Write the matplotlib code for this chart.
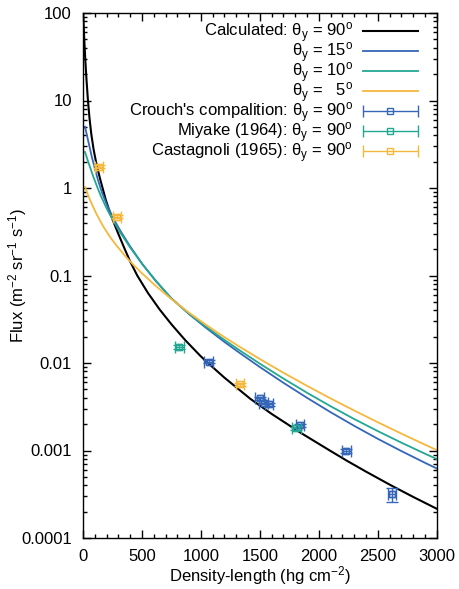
from __future__ import annotations

import matplotlib
matplotlib.use('Agg')
import matplotlib.pyplot as plt
from matplotlib.container import ErrorbarContainer
from matplotlib.legend_handler import HandlerErrorbar
from matplotlib.ticker import FixedLocator, LogLocator, MultipleLocator, NullFormatter

# calculated flux curves (x: hg cm^-2, y: m^-2 sr^-1 s^-1)
calc90_x = [2, 10, 20, 30, 42, 55, 70, 90, 110, 125, 145, 162, 192, 225, 258, 300, 350, 400,
            460, 550, 650, 750, 867, 1000, 1065, 1200, 1420, 1600, 1844, 2099, 2241, 2400,
            2609, 2800, 3000]
calc90_y = [95.5, 52.5, 28.2, 17.0, 10.0, 6.31, 4.17, 2.75, 2.0, 1.64, 1.27, 1.047, 0.741,
            0.543, 0.412, 0.2985, 0.2065, 0.1445, 0.1, 0.0634, 0.0409, 0.0277, 0.01824,
            0.01189, 0.00986, 0.00679, 0.00389, 0.00262, 0.0016, 0.000989, 0.00076,
            0.000574, 0.000402, 0.000295, 0.000216]

calc15_x = [17, 76, 128, 162, 204, 255, 314, 399, 499, 612, 748, 900, 1037, 1200, 1334, 1500,
            1700, 1900, 2100, 2300, 2500, 2700, 2900, 3000]
calc15_y = [5.01, 2.23, 1.22, 0.881, 0.634, 0.456, 0.329, 0.216, 0.1377, 0.0881, 0.0551,
            0.0362, 0.0256, 0.01738, 0.01288, 0.00899, 0.00594, 0.0040, 0.00274, 0.001914,
            0.001361, 0.000986, 0.000724, 0.000624]

calc10_x = [17, 51, 85, 119, 153, 204, 255, 314, 399, 510, 612, 748, 900, 1037, 1200, 1334,
            1500, 1700, 1900, 2100, 2300, 2500, 2700, 2900, 3000]
calc10_y = [2.576, 1.871, 1.377, 1.04, 0.8035, 0.5715, 0.4256, 0.3133, 0.2099, 0.1309, 0.0893,
            0.0547, 0.03656, 0.02636, 0.01832, 0.0138, 0.00982, 0.00664, 0.00457, 0.003206,
            0.00229, 0.001667, 0.00123, 0.00092, 0.0008]

calc5_x = [17, 60, 111, 170, 230, 289, 357, 425, 499, 612, 748, 900, 1037, 1200, 1334, 1500,
           1700, 1900, 2100, 2300, 2500, 2700, 2900, 3000]
calc5_y = [1.026, 0.726, 0.516, 0.367, 0.275, 0.2158, 0.1675, 0.1334, 0.1064, 0.0771, 0.054,
           0.0375, 0.02767, 0.01972, 0.01517, 0.01109, 0.00774, 0.00548, 0.003936, 0.002864,
           0.002104, 0.00156, 0.001167, 0.001012]

# measurements
crouch_x = [1065, 1498, 1532, 1575, 1838, 2234, 2623]
crouch_y = [0.0103, 0.00395, 0.00352, 0.00337, 0.00194, 0.000987, 0.000316]
crouch_yerr = [0.0004, 0.00015, 0.00013, 0.00012, 0.00007, 0.00004, 0.00006]

miyake_x = [818, 1810]
miyake_y = [0.0153, 0.00179]
miyake_yerr = [0.0008, 0.00008]

castagnoli_x = [136, 286, 1329]
castagnoli_y = [1.75, 0.47, 0.0057]
castagnoli_yerr = [0.07, 0.02, 0.0002]

x_err = 35

y_ticks = [1e-4, 1e-3, 1e-2, 1e-1, 1, 10, 100]
y_tick_labels = ['0.0001', '0.001', '0.01', '0.1', '1', '10', '100']

BLACK = '#000000'
BLUE = '#3566b8'
GREEN = '#22a892'
ORANGE = '#f5b83d'


def theta(angle: str) -> str:
    return 'θ$_{\\rm y}$ = ' + angle + '$^{\\rm o}$'


def draw_points(ax, xs, ys, yerr, color, label):
    kw = dict(fmt='s', color=color, mfc='none', ms=4.5, mew=1.0, elinewidth=1.0,
              capsize=4, capthick=1.0)
    ax.errorbar(xs, ys, xerr=x_err, label=label, **kw)
    ax.errorbar(xs, ys, yerr=yerr, **kw)


def main() -> int:
    plt.rcParams['font.family'] = ['Liberation Sans', 'DejaVu Sans']
    plt.rcParams['mathtext.fontset'] = 'custom'
    plt.rcParams['mathtext.rm'] = 'Liberation Sans'
    plt.rcParams['mathtext.it'] = 'Liberation Sans:italic'
    plt.rcParams['mathtext.bf'] = 'Liberation Sans:bold'
    plt.rcParams['font.size'] = 12

    fig = plt.figure(figsize=(4.59, 5.89), dpi=100)
    ax = fig.add_axes([83 / 459, 1 - 538 / 589, 353.7 / 459, 525 / 589])

    ax.plot(calc90_x, calc90_y, color=BLACK, lw=1.5, label='Calculated: ' + theta('90'))
    ax.plot(calc15_x, calc15_y, color=BLUE, lw=1.3, label=theta('15'))
    ax.plot(calc10_x, calc10_y, color=GREEN, lw=1.3, label=theta('10'))
    ax.plot(calc5_x, calc5_y, color=ORANGE, lw=1.3, label=theta('  5'))

    draw_points(ax, crouch_x, crouch_y, crouch_yerr, BLUE, "Crouch's compalition: " + theta('90'))
    draw_points(ax, miyake_x, miyake_y, miyake_yerr, GREEN, 'Miyake (1964): ' + theta('90'))
    draw_points(ax, castagnoli_x, castagnoli_y, castagnoli_yerr, ORANGE, 'Castagnoli (1965): ' + theta('90'))

    ax.set_yscale('log')
    ax.set_xlim(0, 3000)
    ax.set_ylim(1e-4, 100)
    ax.xaxis.set_major_locator(MultipleLocator(500))
    ax.xaxis.set_minor_locator(MultipleLocator(100))
    ax.yaxis.set_major_locator(FixedLocator(y_ticks))
    ax.set_yticklabels(y_tick_labels)
    ax.yaxis.set_minor_locator(LogLocator(base=10, subs=range(2, 10)))
    ax.yaxis.set_minor_formatter(NullFormatter())
    ax.tick_params(which='both', direction='in', top=True, right=True, labelsize=12, pad=8)
    ax.tick_params(which='major', length=6, width=1)
    ax.tick_params(which='minor', length=3, width=1)
    for s in ax.spines.values():
        s.set_linewidth(1.0)

    ax.set_xlabel('Density-length (hg cm$^{-2}$)', fontsize=12, labelpad=0)
    ax.set_ylabel('Flux (m$^{-2}$ sr$^{-1}$ s$^{-1}$)', fontsize=12)
    ax.yaxis.set_label_coords(-0.153, 0.5)

    ax.legend(loc='upper right', bbox_to_anchor=(0.947, 0.985), frameon=False,
              markerfirst=False, fontsize=12, handlelength=3.3, handletextpad=0.6,
              labelspacing=-0.28, borderpad=0, borderaxespad=0,
              handler_map={ErrorbarContainer: HandlerErrorbar(xerr_size=1.65)})

    fig.savefig('out.png', dpi=100)
    plt.close(fig)
    return 0


if __name__ == '__main__':
    raise SystemExit(main())
